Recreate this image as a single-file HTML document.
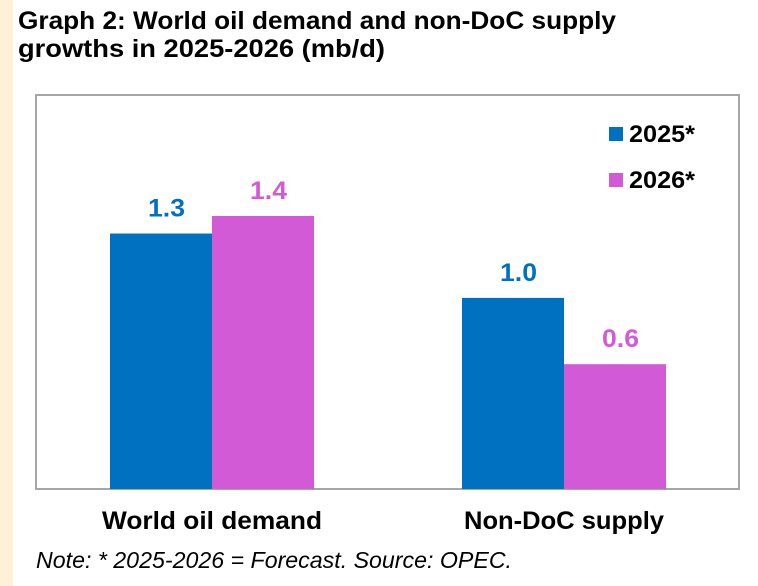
<!DOCTYPE html>
<html><head><meta charset="utf-8"><style>
body{margin:0;width:758px;height:586px;background:#fff;position:relative;overflow:hidden;font-family:"Liberation Sans",Arial,sans-serif}
.strip{position:absolute;left:0;top:0;width:13px;height:586px;background:#fdf1d6}
svg{position:absolute;left:0;top:0}
text{font-family:"Liberation Sans",Arial,sans-serif}
</style></head><body>
<div class="strip"></div>
<svg id="chart" width="758" height="586">
<text x="18" y="29" font-size="25" font-weight="bold" textLength="598" lengthAdjust="spacingAndGlyphs">Graph 2: World oil demand and non-DoC supply</text>
<text x="18" y="57" font-size="25" font-weight="bold" textLength="367" lengthAdjust="spacingAndGlyphs">growths in 2025-2026 (mb/d)</text>
<rect x="36" y="95" width="703" height="394" fill="#fff" stroke="#a6a6a6" stroke-width="2"/>
<text x="36" y="568" font-size="23" font-style="italic" textLength="476" lengthAdjust="spacingAndGlyphs">Note: * 2025-2026 = Forecast. Source: OPEC.</text>
</svg>
<script>
const categories=["World oil demand","Non-DoC supply"];
const series2025=[1.31,0.98];
const series2026=[1.40,0.64];
const seriesNames=["2025*","2026*"];
const colors=["#0070c0","#d25ad6"];
const svg=document.getElementById('chart');
const NS="http://www.w3.org/2000/svg";
const baseY=489, pxPer=195;
function y(v){return baseY-v*pxPer;}
const groupLeft=[110,462], barW=102;
const catWidths=[220,200];
function mk(t,a){const e=document.createElementNS(NS,t);for(const k in a)e.setAttribute(k,a[k]);svg.appendChild(e);return e;}
[series2025,series2026].forEach((s,si)=>{
  s.forEach((v,ci)=>{
    const x=groupLeft[ci]+si*barW;
    const r=mk('rect',{x:x,y:y(v),width:barW,height:v*pxPer,fill:colors[si]});
    
    
    const t=mk('text',{x:x+barW/2-13,y:y(v)-17,'font-size':'25','font-weight':'bold',fill:colors[si],textLength:'37',lengthAdjust:'spacingAndGlyphs'});
    t.textContent=v.toFixed(1);
    
    
  });
});
categories.forEach((c,ci)=>{
  const t=mk('text',{x:groupLeft[ci]+barW-catWidths[ci]/2,y:529,'font-size':'25','font-weight':'bold',fill:'#000',textLength:catWidths[ci],lengthAdjust:'spacingAndGlyphs'});
  t.textContent=c;
  
  
});
seriesNames.forEach((n,i)=>{
  const r=mk('rect',{x:609,y:127+i*46,width:14,height:14,fill:colors[i]});
  
  
  const t=mk('text',{x:629,y:142+i*46,'font-size':'24','font-weight':'bold',fill:'#000',textLength:'66',lengthAdjust:'spacingAndGlyphs'});
  t.textContent=n;
  
  
});
</script>
</body></html>
